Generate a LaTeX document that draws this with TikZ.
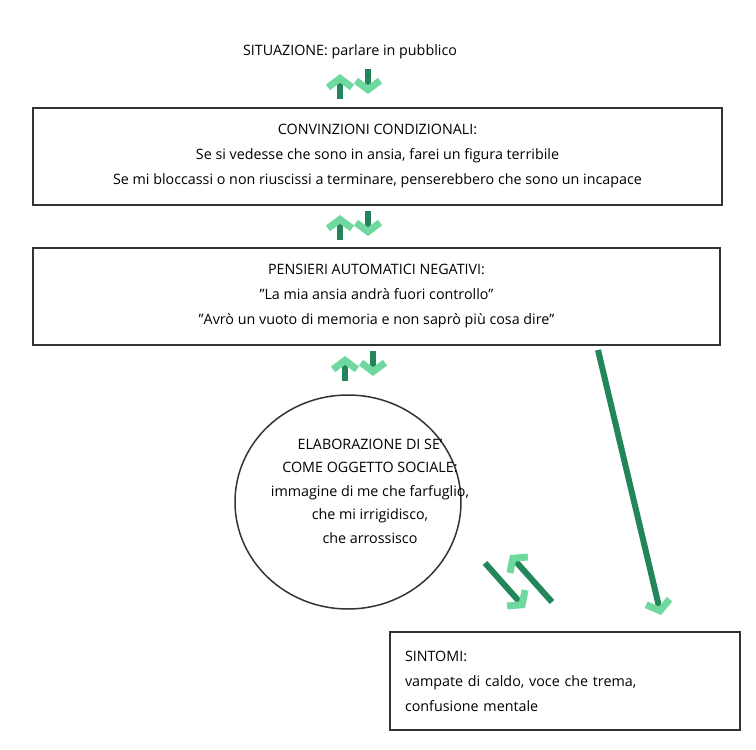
\documentclass[tikz,border=0pt]{standalone}
\usepackage{fontspec}
\setmainfont{Open Sans}
\usetikzlibrary{arrows.meta,positioning,shapes.geometric}
\definecolor{darkgr}{HTML}{23855A}
\definecolor{lightgr}{HTML}{6ED89E}
\newcommand{\dq}{\symbol{34}}
\begin{document}
\begin{tikzpicture}[x=1pt,y=1pt,align=center,
	box node/.style={draw=black!80,line width=1.5pt,minimum height=97pt,font=\fontsize{14.3}{25}\selectfont},
	flow/.style={draw=darkgr,line width=6pt,-{Straight Barb[color=lightgr,line width=7pt,length=9pt,width=24pt]}}]
	\useasboundingbox (0,0) rectangle (756,-750);

	\node[font=\fontsize{14.3}{20}\selectfont] (sit) at (350,-52) {SITUAZIONE: parlare in pubblico};
	\node[box node,minimum width=689pt] (conv) at (377.5,-156.5) {CONVINZIONI CONDIZIONALI:\\Se si vedesse che sono in ansia, farei un figura terribile\\Se mi bloccassi o non riuscissi a terminare, penserebbero che sono un incapace};
	\node[box node,minimum width=687pt] (pens) at (376.5,-296.5) {PENSIERI AUTOMATICI NEGATIVI:\\\dq La mia ansia andrà fuori controllo\dq\\\dq Avrò un vuoto di memoria e non saprò più cosa dire\dq};
	\node[draw=black!80,line width=1.5pt,ellipse,minimum width=226pt,minimum height=214pt,inner sep=0pt] (elab) at (348,-502) {};
	\node[font=\fontsize{14.3}{23.5}\selectfont] (elabt) at (370,-491) {ELABORAZIONE DI SE'\\COME OGGETTO SOCIALE:\\immagine di me che farfuglio,\\che mi irrigidisco,\\che arrossisco};
	\node[box node,minimum width=350pt,minimum height=98pt,align=left,text width=320pt] (sint) at (565,-681) {SINTOMI:\\vampate di caldo, voce che trema,\\confusione mentale};

	\coordinate (a1) at (340,-99); \coordinate (a2) at (340,-74);
	\coordinate (b1) at (368,-69); \coordinate (b2) at (368,-94);
	\coordinate (c1) at (340,-240); \coordinate (c2) at (340,-215);
	\coordinate (d1) at (368,-211); \coordinate (d2) at (368,-236);
	\coordinate (e1) at (345,-381); \coordinate (e2) at (345,-356);
	\coordinate (f1) at (373,-351); \coordinate (f2) at (373,-376);
	\coordinate (g1) at (485,-563); \coordinate (g2) at (525,-608);
	\coordinate (h1) at (552,-602); \coordinate (h2) at (510,-555);
	\coordinate (k1) at (598,-350); \coordinate (k2) at (661,-615);

	\foreach \s/\t in {a1/a2,b1/b2,c1/c2,d1/d2,e1/e2,f1/f2,g1/g2,h1/h2,k1/k2}
		\draw[flow] (\s) -- (\t);
\end{tikzpicture}
\end{document}
